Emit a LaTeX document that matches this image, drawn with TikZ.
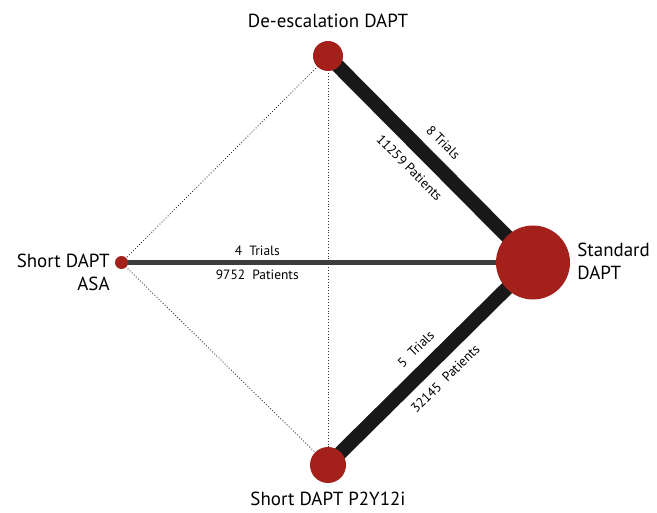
\documentclass[tikz,border=0pt]{standalone}
\usepackage{fontspec}
\setmainfont{PT Sans}
\usetikzlibrary{positioning,backgrounds}
\definecolor{nodered}{RGB}{163,32,27}
\definecolor{edgedark}{RGB}{24,24,24}
\definecolor{edgegray}{RGB}{62,60,60}
\tikzset{
  trt/.style={circle, fill=nodered, draw=none, inner sep=0pt, minimum size=#1},
  lbl/.style={font=\fontsize{19}{23}\selectfont, inner sep=1pt},
  elbl/.style={font=\fontsize{13.5}{16}\selectfont, sloped, inner sep=2pt},
  thickedge/.style={draw=edgedark, line width=14bp},
  thinedge/.style={draw=edgegray, line width=4.5bp},
  dotedge/.style={draw=black!80, line width=0.9bp, dotted}
}
\begin{document}
\begin{tikzpicture}[x=1bp, y=-1bp, line join=round]
			\useasboundingbox (0,0) rectangle (657,513);
			% treatments
			\node[trt=30bp] (deesc) at (328,56) {};
			\node[trt=13bp] (asa) at (121.5,262.5) {};
			\node[trt=74bp] (std) at (533,262.5) {};
			\node[trt=36bp] (p2y) at (328,465) {};
			% labels
			\node[lbl, above=12bp of deesc] (deescl) {De-escalation DAPT};
			\node[lbl, left=4bp of asa, yshift=-10bp, align=right] (asal) {Short DAPT\\ASA};
			\node[lbl, right=6bp of std, yshift=1bp, align=left] (stdl) {Standard\\DAPT};
			\node[lbl, below=8bp of p2y] (p2yl) {Short DAPT P2Y12i};
			% comparisons
			\begin{scope}[on background layer]
				\draw[dotedge] (deesc.center) -- (asa.center);
				\draw[dotedge] (asa.center) -- (p2y.center);
				\draw[dotedge] (deesc.center) -- (p2y.center);
				\draw[thinedge] (asa.center) -- (std.center)
					node[elbl, pos=0.33, above=3bp] {4~~Trials}
					node[elbl, pos=0.33, below=3bp] {9752~~Patients};
				\draw[thickedge] (deesc.center) -- (std.center)
					node[elbl, pos=0.49, above=7bp] {8 Trials}
					node[elbl, pos=0.47, below=7bp] {11259 Patients};
				\draw[thickedge] (p2y.center) -- (std.center)
					node[elbl, pos=0.5, above=7bp] {5~~Trials}
					node[elbl, pos=0.5, below=7bp] {32145~~Patients};
			\end{scope}
		\end{tikzpicture}
\end{document}
